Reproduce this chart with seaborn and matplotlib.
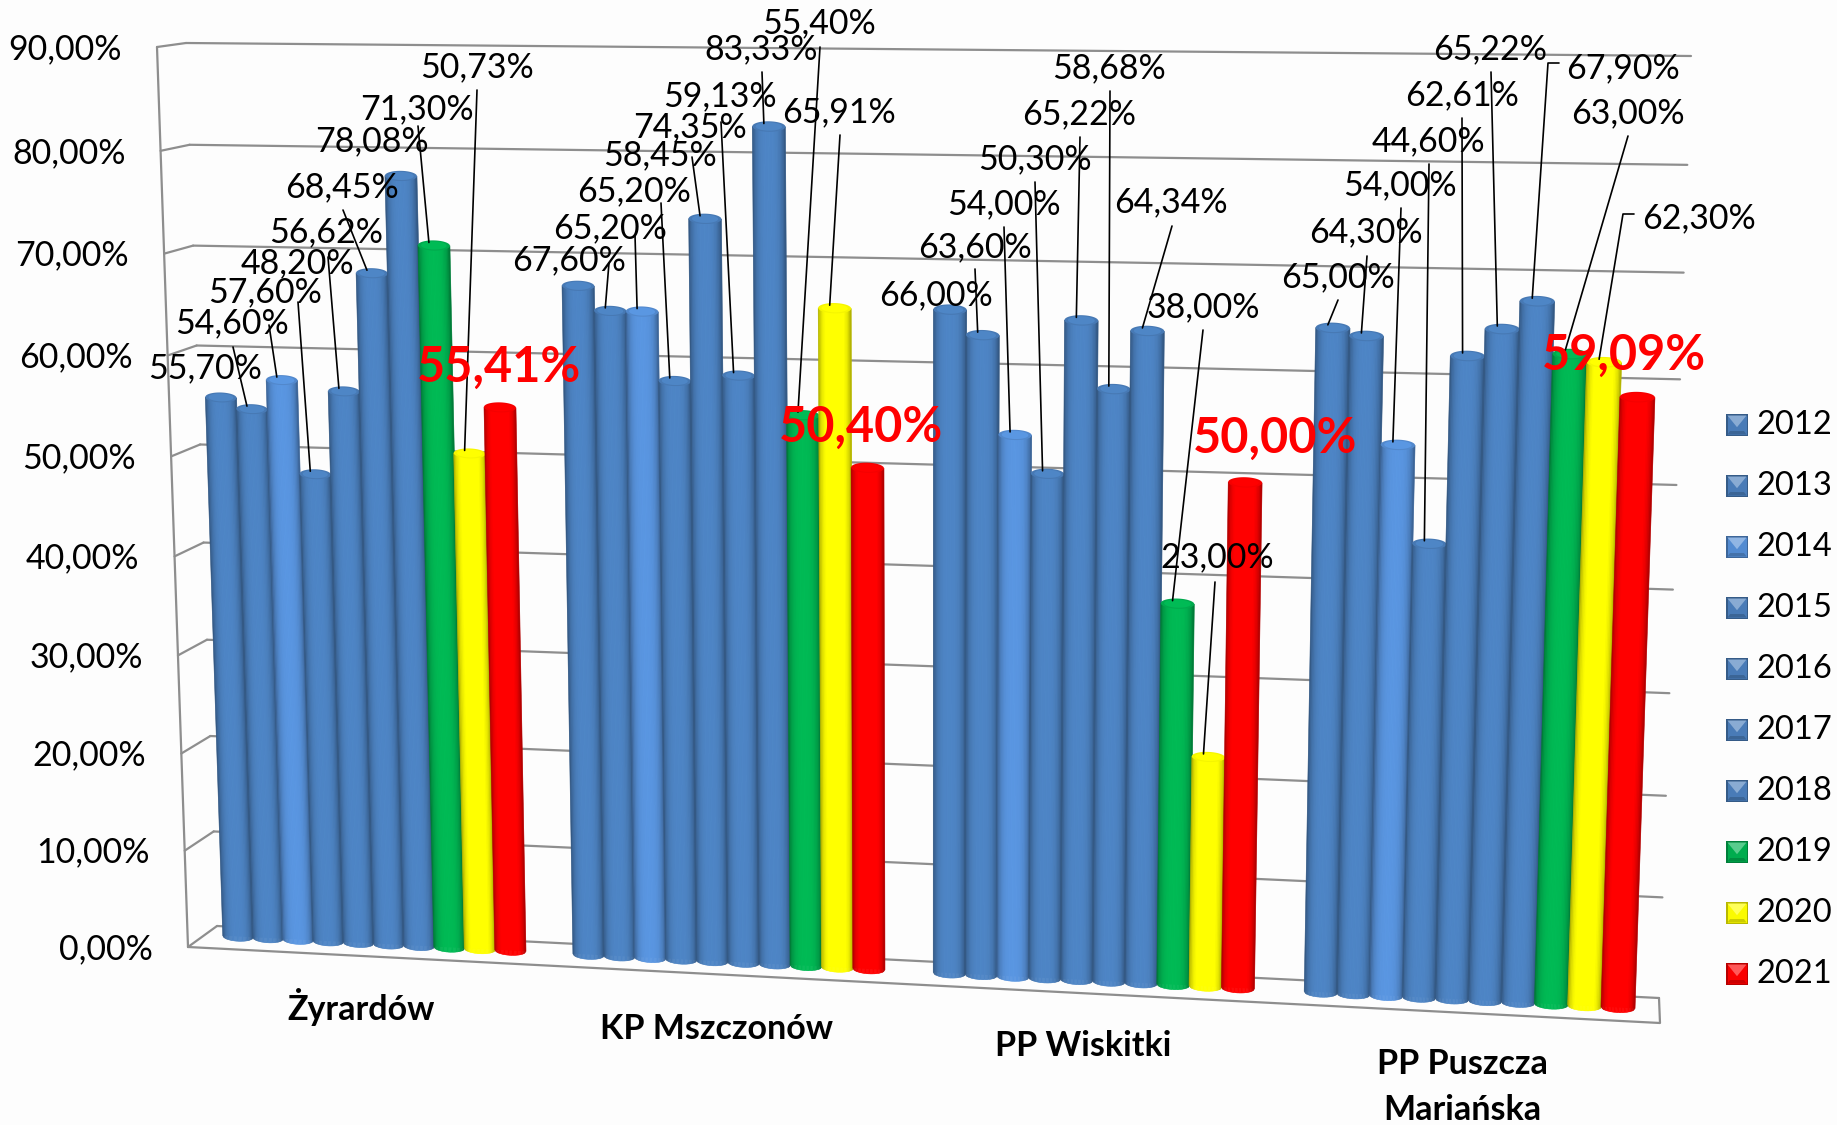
import numpy as np
import pandas as pd
import seaborn as sns
import matplotlib
matplotlib.use("Agg")
import matplotlib.pyplot as plt
from matplotlib import transforms as mtrans
from matplotlib.collections import PolyCollection
from matplotlib.colors import to_rgb
from matplotlib.patches import Polygon

# ---------- data ----------
categories = ["Żyrardów", "KP Mszczonów", "PP Wiskitki", "PP Puszcza\nMariańska"]
years = ["2012", "2013", "2014", "2015", "2016", "2017", "2018", "2019", "2020", "2021"]
zyrardow = [55.70, 54.60, 57.60, 48.20, 56.62, 68.45, 78.08, 71.30, 50.73, 55.41]
mszczonow = [67.60, 65.20, 65.20, 58.45, 74.35, 59.13, 83.33, 55.40, 65.91, 50.40]
wiskitki = [66.00, 63.60, 54.00, 50.30, 65.22, 58.68, 64.34, 38.00, 23.00, 50.00]
puszcza = [65.00, 64.30, 54.00, 44.60, 62.61, 65.22, 67.90, 63.00, 62.30, 59.09]
ticks = [0, 10, 20, 30, 40, 50, 60, 70, 80, 90]
year_colors = ["#4A7EBB", "#4A7EBB", "#558ED5", "#4A7EBB", "#4A7EBB", "#4A7EBB", "#4A7EBB",
               "#00B050", "#FFFF00", "#FF0000"]
series = [zyrardow, mszczonow, wiskitki, puszcza]


def fmt(v):
    return f"{v:.2f}".replace(".", ",") + "%"


# ---------- layout (reference pixels, y down) ----------
W, H = 1837, 1125
BAR_STEP = 0.0866
label_xy = [
    [(205, 366), (232, 321), (265, 290), (297, 261), (326, 230), (342, 185), (372, 139), (417, 107), (477, 65), (499, 365)],
    [(569, 258), (610, 226), (634, 189), (660, 153), (690, 125), (720, 94), (761, 47), (819, 21), (839, 110), (861, 425)],
    [(936, 293), (975, 245), (1004, 202), (1035, 157), (1079, 112), (1109, 66), (1171, 200), (1203, 305), (1217, 555), (1275, 436)],
    [(1338, 275), (1366, 230), (1400, 183), (1428, 139), (1462, 93), (1490, 47), (1623, 66), (1628, 111), (1699, 216), (1624, 353)],
]
leader_from = [
    [None, (233, 347), (269, 325), (298, 302), (328, 257), (343, 210), None, (418, 126), (477, 90), None],
    [None, (609, 263), (635, 235), (661, 203), (692, 157), (721, 122), (762, 72), (820, 47), (840, 135), None],
    [None, (975, 269), (1004, 227), (1035, 182), (1080, 137), (1110, 91), (1172, 226), (1203, 330), (1215, 582), None],
    [(1338, 300), (1367, 256), (1401, 208), (1429, 164), (1462, 118), (1491, 72), (1559, 63), (1628, 136), (1634, 214), None],
]
leader_elbow = {(3, 6): (1548, 63), (3, 8): (1623, 214)}
cat_label_xy = [(361, 1007), (716, 1029), (1083, 1046), (1462, 1087)]


class Persp(mtrans.Transform):
    """Projective map from a plotting plane (x, value) to reference pixels."""
    input_dims = 2
    output_dims = 2
    is_separable = False
    has_inverse = False

    def __init__(self, src, dst, warp=0.0):
        super().__init__()
        self.warp = warp
        self.lo = src[0][0]
        self.hi = src[1][0]
        A, b = [], []
        for (x, y), (u, v) in zip(src, dst):
            A.append([x, y, 1, 0, 0, 0, -u * x, -u * y]); b.append(u)
            A.append([0, 0, 0, x, y, 1, -v * x, -v * y]); b.append(v)
        self.M = np.append(np.linalg.solve(np.array(A, float), np.array(b, float)), 1).reshape(3, 3)

    def transform_non_affine(self, xy):
        xy = np.array(xy, float)
        xy[:, 0] += self.warp * (xy[:, 0] - self.lo) * (self.hi - xy[:, 0])
        p = np.c_[xy, np.ones(len(xy))] @ self.M.T
        return p[:, :2] / p[:, 2:]


sns.set_theme(style="white")
plt.rcParams["font.family"] = ["Lato", "DejaVu Sans"]

fig = plt.figure(figsize=(W / 100, H / 100), dpi=100, facecolor="#FDFDFD")
ax = fig.add_axes([0, 0, 1, 1])

df = pd.DataFrame({
    "kat": np.repeat(categories, len(years)),
    "rok": years * len(categories),
    "wynik": np.concatenate(series),
})
sns.barplot(data=df, x="kat", y="wynik", hue="rok", palette=year_colors, saturation=1,
            width=BAR_STEP * 10, gap=0, legend=False, ax=ax)
ax.set_xlim(-0.5, 3.5)
ax.set_ylim(0, 90)
ax.axis("off")

px = mtrans.Affine2D().scale(1 / W, -1 / H).translate(0, 1) + fig.transFigure
x0, x1 = -4.5 * BAR_STEP, 3 + 4.5 * BAR_STEP
bar_plane = Persp([(x0, 0), (x1, 0), (x0, 90), (x1, 90)],
                  [(238, 936.5), (1618, 1007.5), (210, 52), (1648, 64)], warp=0.0027)
back_wall = Persp([(0, 0), (1, 0), (0, 90), (1, 90)],
                  [(217, 926), (1659, 998), (186, 43), (1691, 56)])
front_wall = Persp([(0, 0), (1, 0), (0, 90), (1, 90)],
                   [(188, 947), (1660, 1023), (157, 47), (1695, 60)])
GRID = "#8E8E8E"
for t in ticks:
    ax.plot([0, 1], [t, t], color=GRID, lw=1.6, transform=back_wall + px, clip_on=False, zorder=1)
    fx, fy = front_wall.transform([(0, t)])[0]
    bx, by = back_wall.transform([(0, t)])[0]
    ax.plot([fx, bx], [fy, by], color=GRID, lw=1.6, transform=px, clip_on=False, zorder=1)
    ax.text(fx - 35, fy + 2, f"{t},00%", transform=px, ha="right", va="center",
            fontsize=24.5, color="black", zorder=50)
ax.plot([0, 0], [0, 90], color=GRID, lw=1.6, transform=front_wall + px, clip_on=False, zorder=1)
ax.plot([188, 1660, 1659], [947, 1023, 998], color=GRID, lw=1.6, transform=px, clip_on=False, zorder=1)


# ---------- cylinders built from the seaborn bars ----------
def shade(c, f):
    return tuple(np.clip(np.array(to_rgb(c)) * f, 0, 1))


def lighten(c, a):
    return tuple(np.array(to_rgb(c)) * (1 - a) + a)


E = 0.5
edges = np.linspace(-1, 1, 25)
for yi, cont in enumerate(ax.containers):
    for ci, rect in enumerate(cont.patches):
        cx = rect.get_x() + rect.get_width() / 2
        half = rect.get_width() * 0.51
        v = rect.get_height()
        col = year_colors[yi]
        z = 5 + (ci * 10 + yi) * 0.1
        rect.set_transform(bar_plane + px)
        rect.set_clip_on(False)
        rect.set_linewidth(0)
        rect.set_zorder(z)
        polys, cols = [], []
        for a, b in zip(edges[:-1], edges[1:]):
            m = (a + b) / 2
            ya = np.sqrt(1 - a * a) * E
            yb = np.sqrt(1 - b * b) * E
            polys.append([(cx + a * half, -ya), (cx + b * half, -yb),
                          (cx + b * half, v - yb), (cx + a * half, v - ya)])
            cols.append(shade(col, 0.60 + 0.46 * (1 - abs(m) ** 3) ** 0.7))
        pc = PolyCollection(polys, facecolors=cols, edgecolors=cols, linewidths=0.4,
                            transform=bar_plane + px, clip_on=False, zorder=z + 0.01)
        ax.add_collection(pc, autolim=False)
        th = np.linspace(0, 2 * np.pi, 50)
        for scale_, f in ((1.0, 0.96), (0.8, 1.06)):
            ell = np.c_[cx + half * scale_ * np.cos(th), v + E * scale_ * np.sin(th)]
            ax.add_patch(Polygon(ell, closed=True, facecolor=shade(col, f), edgecolor="none",
                                 transform=bar_plane + px, clip_on=False, zorder=z + 0.02))

# ---------- data labels and leaders ----------
for ci, vals in enumerate(series):
    for yi, val in enumerate(vals):
        lx, ly = label_xy[ci][yi]
        is_last = yi == len(years) - 1
        if is_last:
            ax.text(lx, ly + 2, fmt(val), transform=px, ha="center", va="center", fontsize=35,
                    fontweight="bold", color="#FF0000", zorder=60)
        else:
            ax.text(lx, ly + 2, fmt(val), transform=px, ha="center", va="center", fontsize=24.5,
                    color="black", zorder=55)
        start = leader_from[ci][yi]
        if start is not None:
            rect = ax.containers[yi].patches[ci]
            tip = bar_plane.transform([(rect.get_x() + rect.get_width() / 2, val)])[0]
            pts = [start]
            if (ci, yi) in leader_elbow:
                pts.append(leader_elbow[(ci, yi)])
            pts.append((tip[0] - 5, tip[1] - 3))
            ax.plot(*zip(*pts), color="black", lw=1.2, transform=px, clip_on=False, zorder=54)

for (lx, ly), name in zip(cat_label_xy, categories):
    ax.text(lx, ly, name, transform=px, ha="center", va="center", fontsize=24.5,
            fontweight="bold", color="black", linespacing=1.55, zorder=50)

# ---------- legend ----------
SW = 22
for i, (yr, col) in enumerate(zip(years, year_colors)):
    sx, sy = 1726, 414 + 61 * i
    a, b, c, d = (sx, sy), (sx + SW, sy), (sx + SW, sy + SW), (sx, sy + SW)
    i_a, i_b, i_c, i_d = (sx + 1.5, sy + 1.5), (sx + SW - 1.5, sy + 1.5), (sx + SW - 1.5, sy + SW - 1.5), (sx + 1.5, sy + SW - 1.5)
    apex = (sx + SW / 2, sy + SW * 0.6)
    low_a, low_b = (sx + 4, sy + SW - 5), (sx + SW - 4, sy + SW - 5)
    parts = [([a, b, c, d], shade(col, 0.72)),
             ([i_a, i_b, i_c, i_d], shade(col, 0.98)),
             ([i_d, i_c, low_b, low_a], shade(col, 0.80)),
             ([i_a, i_b, apex], lighten(col, 0.35))]
    for poly, rgb in parts:
        ax.add_patch(Polygon(poly, closed=True, facecolor=rgb, edgecolor="none",
                             transform=px, clip_on=False, zorder=40))
    ax.text(1756, sy + 11, yr, transform=px, ha="left", va="center", fontsize=23.5,
            color="black", zorder=50)

fig.savefig("out.png", dpi=100, facecolor=fig.get_facecolor())
